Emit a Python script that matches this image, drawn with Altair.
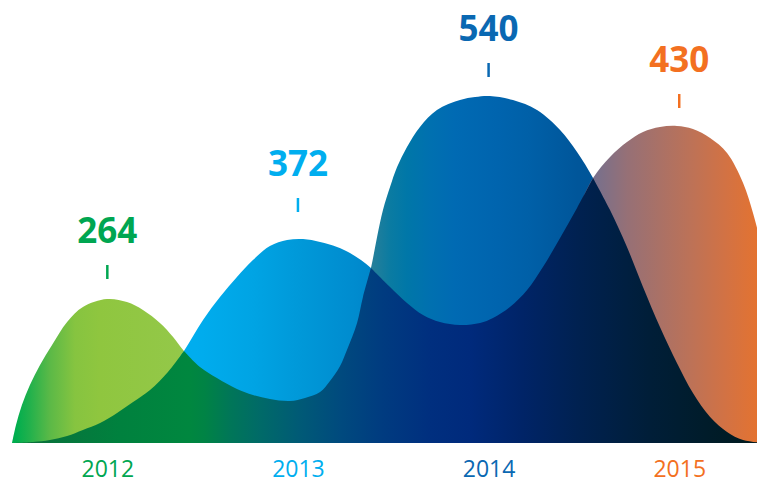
import altair as alt
import pandas as pd

# ---- labels / categories ----
years = [2012, 2013, 2014, 2015]
values = [264, 372, 540, 430]
marker_h = [164, 231, 366, 335]          # height of the small marker under each value label
label_colors = ["#00a651", "#00aeef", "#0a68b2", "#f37021"]

# ---- curve outlines (x in years, h = shape height) ----
g12_x = [2011.500, 2011.521, 2011.552, 2011.594, 2011.647, 2011.710, 2011.789, 2011.872, 2011.998,
         2012.103, 2012.187, 2012.276, 2012.345, 2012.402, 2012.486, 2012.575, 2012.680, 2012.764,
         2012.853, 2012.958, 2013.063, 2013.168, 2013.273]
g12_h = [0, 18, 38, 58, 78, 98, 121, 136, 144, 141, 133, 120, 106, 92, 74, 63, 52, 46, 42, 39, 25, 10, 0]

c13_x = [2011.500, 2011.610, 2011.699, 2011.789, 2011.872, 2011.962, 2012.051, 2012.135, 2012.224,
         2012.318, 2012.402, 2012.502, 2012.591, 2012.680, 2012.764, 2012.853, 2012.943, 2013.027,
         2013.116, 2013.205, 2013.273, 2013.383, 2013.483, 2013.572, 2013.656, 2013.745, 2013.850,
         2013.929, 2014.007, 2014.112, 2014.217, 2014.322, 2014.427]
c13_h = [0, 0, 1, 5, 11, 18, 28, 39, 51, 69, 92, 123, 146, 166, 183, 197, 203, 204, 201, 196, 190,
         175, 154, 138, 126, 119, 116, 110, 100, 78, 43, 13, 0]

b14_x = [2012.644, 2012.749, 2012.853, 2012.958, 2013.037, 2013.116, 2013.168, 2013.221, 2013.257,
         2013.310, 2013.341, 2013.383, 2013.415, 2013.446, 2013.483, 2013.520, 2013.572, 2013.640,
         2013.729, 2013.850, 2013.929, 2014.007, 2014.128, 2014.254, 2014.375, 2014.464, 2014.548,
         2014.637, 2014.726, 2014.810, 2014.899, 2014.988, 2015.072, 2015.162, 2015.251, 2015.335,
         2015.450]
b14_h = [0, 5, 21, 40, 43, 49, 60, 75, 91, 118, 144, 175, 206, 233, 256, 276, 296, 316, 333, 343,
         346, 347, 343, 333, 313, 291, 265, 231, 194, 154, 114, 78, 48, 24, 9, 1, 0]

o15_x = [2013.430, 2013.535, 2013.640, 2013.745, 2013.850, 2013.955, 2014.023, 2014.112, 2014.202,
         2014.285, 2014.375, 2014.464, 2014.548, 2014.637, 2014.726, 2014.810, 2014.899, 2014.988,
         2015.072, 2015.162, 2015.251, 2015.335, 2015.387, 2015.424, 2015.450, 2015.487, 2015.529,
         2015.581, 2015.634, 2015.697]
o15_h = [0, 20, 50, 80, 104, 118, 123, 134, 151, 174, 203, 233, 265, 286, 301, 311, 316, 317, 314,
         305, 290, 260, 230, 203, 183, 148, 103, 53, 18, 0]

# overlap (dark) region outline
dk_x = [2011.500, 2011.610, 2011.699, 2011.789, 2011.872, 2011.962, 2012.051, 2012.135, 2012.224,
        2012.318, 2012.402, 2012.402, 2012.486, 2012.575, 2012.680, 2012.764, 2012.853, 2012.958,
        2013.037, 2013.116, 2013.168, 2013.221, 2013.257, 2013.310, 2013.341, 2013.383, 2013.383,
        2013.483, 2013.572, 2013.656, 2013.745, 2013.850, 2013.955, 2014.023, 2014.112, 2014.202,
        2014.285, 2014.375, 2014.464, 2014.548, 2014.548, 2014.637, 2014.726, 2014.810, 2014.899,
        2014.988, 2015.072, 2015.162, 2015.251, 2015.335, 2015.450]
dk_h = [0, 1, 3, 7, 13, 20, 30, 41, 53, 71, 92, 92, 76, 65, 54, 48, 44, 42, 45, 51, 62, 77, 93, 120,
        146, 175, 175, 156, 140, 128, 121, 118, 120, 125, 136, 153, 176, 205, 235, 265, 265, 233,
        196, 156, 116, 80, 50, 26, 11, 3, 0]

# ---- gradient stops (offset, colour) ----
g12_stops = [(0, "#00ac4e"), (0.012, "#00ae4e"), (0.053, "#22b14c"), (0.112, "#5bb947"),
             (0.186, "#86c440"), (0.26, "#8fc63f"), (0.527, "#94c84a"), (1, "#94c84a")]
c13_stops = [(0, "#00aeef"), (0.33, "#00adee"), (0.43, "#00a4e4"), (0.52, "#0098d8"),
             (0.61, "#008ccf"), (0.65, "#0086ca"), (1, "#0070b0")]
b14_stops = [(0, "#2a8a8a"), (0.26, "#2a8098"), (0.3, "#0a7ba2"), (0.33, "#0077a8"),
             (0.375, "#0070b0"), (0.42, "#006ab3"), (0.5, "#0064ae"), (0.557, "#0060a8"),
             (0.65, "#00569a"), (1, "#004a85")]
o15_stops = [(0, "#3a62a0"), (0.45, "#6c6e95"), (0.509, "#7c7089"), (0.572, "#967076"),
             (0.648, "#aa7166"), (0.725, "#be7256"), (0.803, "#d37243"), (0.88, "#e5732f"),
             (1, "#ee7425")]
dk_stops = [(0, "#0d6a3a"), (0.064, "#06763c"), (0.143, "#00813e"), (0.236, "#00873f"),
            (0.256, "#008345"), (0.29, "#007658"), (0.33, "#006a68"), (0.382, "#005a76"),
            (0.436, "#004a7e"), (0.489, "#003c80"), (0.555, "#002f7f"), (0.608, "#002a7c"),
            (0.675, "#002468"), (0.754, "#002150"), (0.847, "#001e38"), (1, "#001a1c")]

xscale = alt.Scale(domain=[2011.5, 2015.408], nice=False, zero=False)
yscale = alt.Scale(domain=[0, 435], nice=False)

label_color_cond = {
    "condition": [{"test": f"datum.value == {y}", "value": c}
                  for y, c in zip(years[:-1], label_colors[:-1])],
    "value": label_colors[-1],
}
xaxis = alt.Axis(values=years, format="d", title=None, domain=False, ticks=False, tickSize=0,
                 grid=False, labelFont="Open Sans", labelFontSize=23, labelPadding=33,
                 labelBaseline="alphabetic", labelColor=label_color_cond, labelFlush=False,
                 labelOverlap=False)


def grad(stops):
    return alt.Gradient(gradient="linear", x1=0, y1=0, x2=1, y2=0,
                        stops=[alt.GradientStop(offset=o, color=c) for o, c in stops])


def area(xs, hs, stops):
    df = pd.DataFrame({"x": xs, "h": hs})
    return alt.Chart(df).mark_area(interpolate="catmull-rom", clip=True, color=grad(stops)).encode(
        x=alt.X("x:Q", scale=xscale, axis=xaxis),
        y=alt.Y("h:Q", scale=yscale, axis=None, stack=None),
    )


labels = pd.DataFrame({"year": years, "value": values, "marker": marker_h,
                       "key": [str(y) for y in years]})
color_enc = alt.Color("key:N", scale=alt.Scale(domain=[str(y) for y in years], range=label_colors),
                      legend=None)

ticks = alt.Chart(labels).mark_rule(strokeWidth=2.5, y2Offset=-14).encode(
    x=alt.X("year:Q", scale=xscale, axis=xaxis),
    y=alt.Y("marker:Q", scale=yscale, axis=None),
    y2="marker:Q",
    color=color_enc,
)
texts = alt.Chart(labels).mark_text(font="Open Sans", fontWeight="bold", fontSize=35,
                                    baseline="alphabetic", align="center", dy=-36).encode(
    x=alt.X("year:Q", scale=xscale, axis=xaxis),
    y=alt.Y("marker:Q", scale=yscale, axis=None),
    text=alt.Text("value:Q", format="d"),
    color=color_enc,
)

chart = alt.layer(
    area(g12_x, g12_h, g12_stops),
    area(c13_x, c13_h, c13_stops),
    area(b14_x, b14_h, b14_stops),
    area(o15_x, o15_h, o15_stops),
    area(dk_x, dk_h, dk_stops),
    ticks,
    texts,
).properties(
    width=745, height=435,
    padding={"left": 4, "top": 0, "right": 0, "bottom": 37},
    autosize=alt.AutoSizeParams(type="none"),
    background="white",
).configure_view(strokeWidth=0)

chart.save("out.html", embed_options={"renderer": "svg", "actions": False})
